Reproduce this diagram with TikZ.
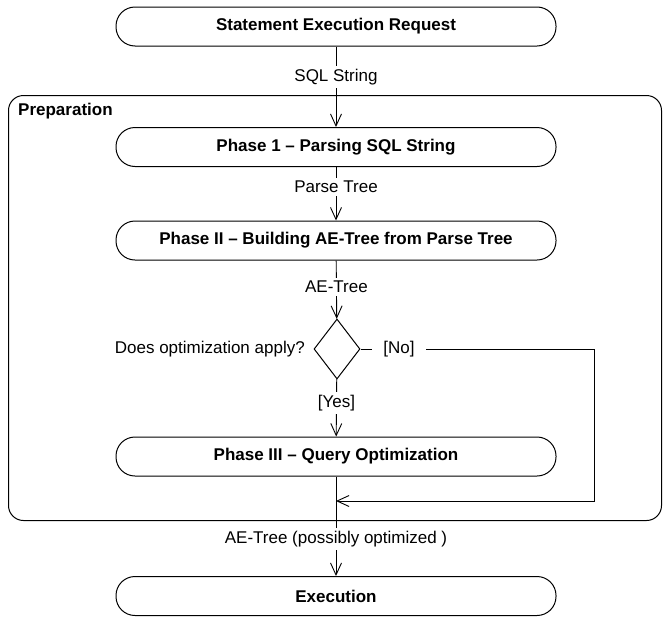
\documentclass[tikz,border=0pt]{standalone}
\usepackage{fontspec}
\setmainfont{Liberation Sans}
\usetikzlibrary{arrows.meta,shapes.geometric}
\begin{document}
\begin{tikzpicture}[x=1pt,y=-1pt,
  act/.style={draw, line width=1pt, rounded corners=19pt, minimum width=440pt, minimum height=39pt,
    inner sep=0pt, font=\fontsize{17}{20}\selectfont\bfseries},
  lbl/.style={fill=white, inner xsep=2pt, inner ysep=3pt, font=\fontsize{17}{20}\selectfont},
  flow/.style={line width=0.9pt, -{Straight Barb[length=12pt,width=11pt,line width=0.9pt]}},
  dec/.style={draw, diamond, line width=1pt, minimum width=46pt, minimum height=60pt, inner sep=0pt},
  grp/.style={draw, line width=1pt, rounded corners=15pt, inner sep=0pt}]
\useasboundingbox (0,0) rectangle (663,616);

\node[grp, anchor=north west, minimum width=653pt, minimum height=425pt] (prep) at (8,95) {};
\node[anchor=west, inner sep=0pt, font=\fontsize{17}{20}\selectfont\bfseries] (preplbl) at (18,111) {Preparation};

\node[act] (req) at (336,26.5) {Statement Execution Request};
\node[act] (p1) at (336,147) {Phase 1 – Parsing SQL String};
\node[act] (p2) at (336,240.5) {Phase II – Building AE-Tree from Parse Tree};
\node[dec] (d) at (337,349) {};
\node[anchor=east, inner sep=0pt, font=\fontsize{17}{20}\selectfont] (q) at (305,349) {Does optimization apply?};
\node[act] (p3) at (336,456.5) {Phase III – Query Optimization};
\node[act] (ex) at (336,596) {Execution};

\coordinate (c1) at (594,349);
\coordinate (c2) at (594,501);
\coordinate (m) at (336,501);

\draw[flow] (req) -- node[lbl, pos=0.38] {SQL String} (p1);
\draw[flow] (p1) -- node[lbl, pos=0.37] {Parse Tree} (p2);
\draw[flow] (p2) -- node[lbl, pos=0.45] {AE-Tree} (d);
\draw[flow] (d) -- node[lbl, pos=0.41] {[Yes]} (p3);
\draw[flow] (p3) -- node[lbl, pos=0.63] {AE-Tree (possibly optimized )} (ex);
\draw[flow] (d.east) -- node[lbl, pos=0.165, inner xsep=11pt] {[No]} (c1) -- (c2) -- (m);
\end{tikzpicture}
\end{document}
